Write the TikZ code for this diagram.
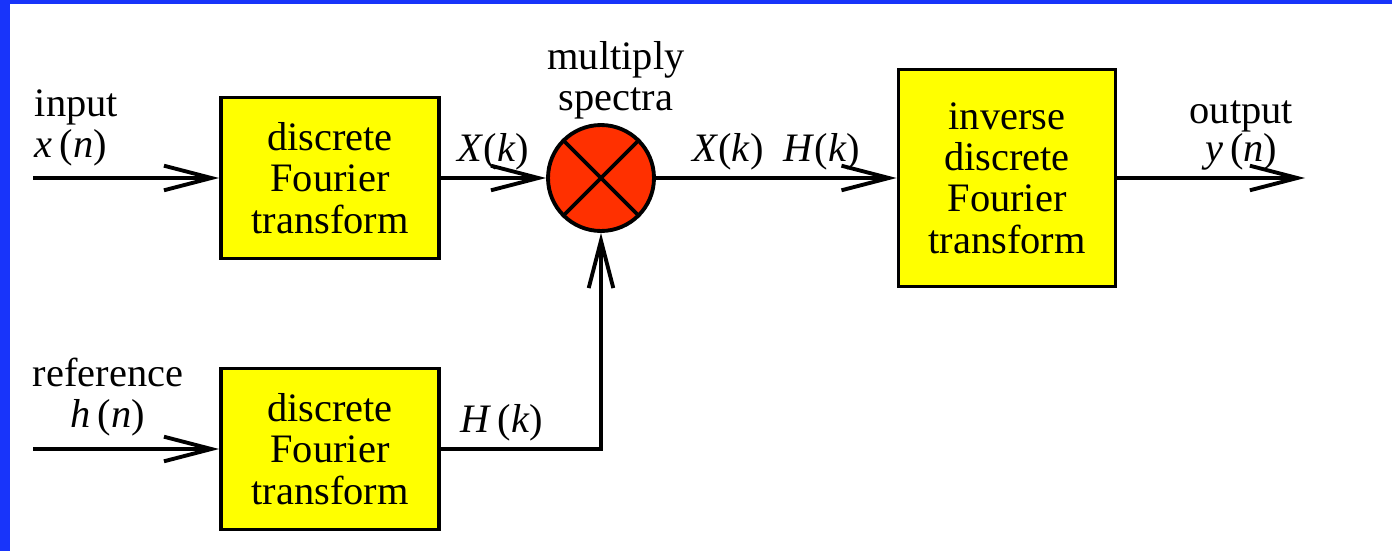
\documentclass[tikz,border=0pt]{standalone}
\usepackage{fontspec}
\setmainfont{Liberation Serif}
\usetikzlibrary{positioning,arrows.meta}
\definecolor{frameblue}{RGB}{24,52,250}
\definecolor{boxyellow}{RGB}{255,255,0}
\definecolor{mixred}{RGB}{255,48,0}

\begin{document}
\begin{tikzpicture}[x=0.02cm, y=-0.02cm, line width=2.2pt,
    font=\fontsize{23}{23.5}\selectfont,
    sig/.style={-{Straight Barb[length=27pt,width=14pt]}},
    dft/.style={draw, fill=boxyellow, align=center, minimum width=4.36cm, minimum height=3.22cm},
    lbl/.style={inner sep=0pt, align=center}]
      \useasboundingbox (0,0) rectangle (1392,551);
      \fill[frameblue] (0,0) rectangle (1392,551);
      \fill[white] (10,4) rectangle (1392,551);
      % blocks
      \node[dft] (dfta) at (330,178) {discrete\\Fourier\\transform};
      \node[dft] (dftb) at (330,449) {discrete\\Fourier\\transform};
      \node[dft, minimum width=4.34cm, minimum height=4.34cm] (idft) at (1007,178) {inverse\\discrete\\Fourier\\transform};
      \node[draw, circle, fill=mixred, minimum size=2.12cm] (mult) at (601,178) {};
      \draw (mult.north west) -- (mult.south east);
      \draw (mult.north east) -- (mult.south west);
      % free ends
      \coordinate (xin) at (33,178);
      \coordinate (hin) at (33,449);
      \coordinate (yout) at (1305,178);
      % signals
      \draw[sig] (xin) -- (dfta);
      \draw[sig] (hin) -- (dftb);
      \draw[sig] (dfta) -- (mult) node[midway, above] {\textit{X}(\textit{k})};
      \draw[sig] (mult) -- (idft) node[midway, above] {\textit{X}(\textit{k})\enspace\textit{H}(\textit{k})};
      \draw[sig] (idft) -- (yout) node[pos=0.66, above, align=center] {output\\[-2pt]\textit{y}\,(\textit{n})};
      \draw[sig] (dftb) -| (mult) node[pos=0.19, above] {\textit{H}\,(\textit{k})};
      % labels
      \node[lbl, anchor=south west, align=left] (inlbl) at (33,168) {input\\\textit{x}\,(\textit{n})};
      \node[lbl, anchor=south] (reflbl) at (108,438) {reference\\\textit{h}\,(\textit{n})};
      \node[lbl, anchor=south] (multlbl) at (616,121) {multiply\\spectra};
    \end{tikzpicture}
\end{document}
